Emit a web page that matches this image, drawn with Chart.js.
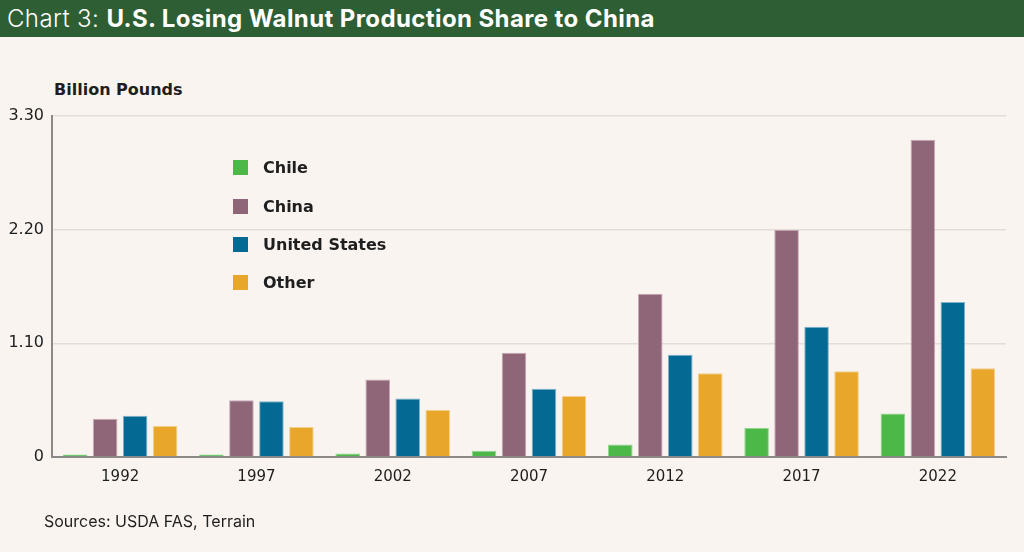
<!DOCTYPE html>
<html><head><meta charset="utf-8">
<script src="https://cdn.jsdelivr.net/npm/chart.js@4"></script>
<style>
html,body{margin:0;padding:0;background:#f9f4f0;}
body{width:1024px;height:552px;position:relative;overflow:hidden;font-family:Inter,"Noto Sans",sans-serif;}
#hdr{position:absolute;left:0;top:0;width:1024px;height:37px;background:#2d5e34;color:#fff;font-size:24px;line-height:37px;padding-left:7px;box-sizing:border-box;letter-spacing:0.4px;}
#hdr .l{font-weight:300;}
#hdr .b{font-weight:700;}
#unit{position:absolute;left:54px;top:80px;font-size:16px;font-weight:700;color:#1e1e1e;font-family:"DejaVu Sans",sans-serif;}
#src{position:absolute;left:44px;top:511px;font-size:16px;font-weight:400;color:#1e1e1e;}
#wrap{position:absolute;left:0;top:37px;width:1024px;height:515px;}
#legend{position:absolute;left:233px;top:0;}
.li{position:absolute;left:0;white-space:nowrap;font-size:16px;font-weight:700;color:#1e1e1e;font-family:"DejaVu Sans",sans-serif;}
.li span.sw{position:absolute;left:0;width:15px;height:15px;}
.li span.t{position:absolute;left:30px;top:-1px;line-height:18px;}
</style></head>
<body>
<div id="hdr"><span class="l">Chart 3: </span><span class="b">U.S. Losing Walnut Production Share to China</span></div>
<div id="unit">Billion Pounds</div>
<div id="wrap"><canvas id="c" width="1024" height="515"></canvas></div>
<div id="legend"></div>
<div id="src">Sources: USDA FAS, Terrain</div>
<script>
const categories = ["1992","1997","2002","2007","2012","2017","2022"];
const chile = [0.025,0.025,0.035,0.06,0.12,0.28,0.42];
const china = [0.37,0.55,0.75,1.01,1.58,2.20,3.07];
const unitedStates = [0.40,0.54,0.565,0.66,0.99,1.26,1.50];
const other = [0.30,0.29,0.455,0.59,0.81,0.83,0.86];
const yTicks = [0,1.10,2.20,3.30];
const seriesNames = ["Chile","China","United States","Other"];
const seriesColors = ["#4bb848","#8f6678","#056a93","#e8a72b"];
const seriesBorders = ["#8fd68a","#c9a9b6","#7fb3c9","#f5d08a"];

const data = [chile, china, unitedStates, other];
const DV = "'DejaVu Sans', sans-serif";
const chart = new Chart(document.getElementById('c'), {
  type: 'bar',
  data: {
    labels: categories,
    datasets: data.map((d,i)=>({
      label: seriesNames[i], data: d,
      backgroundColor: seriesColors[i],
      borderColor: seriesBorders[i], borderWidth: 1,
      barPercentage: 0.82, categoryPercentage: 0.88
    }))
  },
  options: {
    responsive: false, animation: false,
    layout: {padding: {left: 0, right: 18, top: 79, bottom: 55}},
    plugins: {legend: {display: false}, tooltip: {enabled: false}, title: {display: false}},
    scales: {
      x: {
        grid: {display: false, drawTicks: false},
        border: {color: '#8c8a88', width: 2},
        ticks: {font: {family: DV, size: 15, weight: 400}, color: '#1e1e1e', padding: 11},
        afterFit: s => { s.height = 40; }
      },
      y: {
        min: 0, max: 3.3,
        afterBuildTicks: s => { s.ticks = yTicks.map(v => ({value: v})); },
        grid: {color: '#e3ddd9', lineWidth: 1.5, drawTicks: false},
        border: {color: '#8c8a88', width: 2},
        ticks: {font: {family: DV, size: 16, weight: 400}, color: '#1e1e1e', padding: 8,
          callback: v => v === 0 ? '0' : Number(v).toFixed(2)},
        afterFit: s => { s.width = 52; }
      }
    }
  }
});
const lg = document.getElementById('legend');
const legendY = [160, 199, 237, 275];
chart.data.datasets.forEach((ds,i)=>{
  const d = document.createElement('div');
  d.className = 'li';
  d.style.top = legendY[i] + 'px';
  d.innerHTML = '<span class="sw" style="background:'+ds.backgroundColor+'"></span><span class="t">'+ds.label+'</span>';
  lg.appendChild(d);
});
</script>
</body></html>
